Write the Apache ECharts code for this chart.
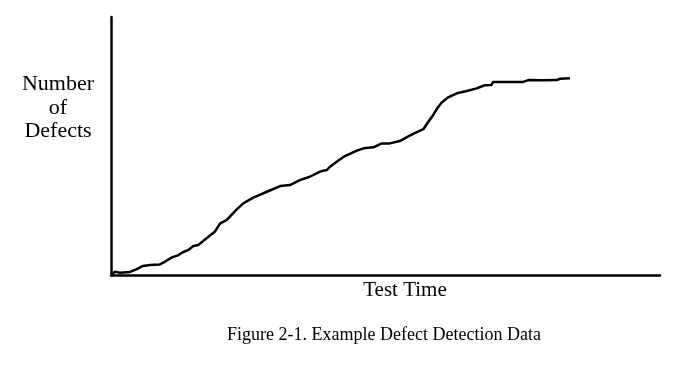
<!DOCTYPE html>
<html>
<head>
<meta charset="utf-8">
<script src="https://cdn.jsdelivr.net/npm/echarts@6/dist/echarts.min.js"></script>
<style>html,body{margin:0;padding:0;background:#fff}#c{width:698px;height:368px}</style>
</head>
<body>
<div id="c"></div>
<script>
// Test time (relative units, 0..100 along the axis)
const testTime = [0.2,0.7,1.6,3.5,4.7,5.8,7.1,8.9,9.8,11.1,12.3,12.9,14.1,15.0,15.9,17.4,18.9,19.9,21.1,22.9,24.1,25.9,28.4,30.8,32.6,34.4,36.2,38.1,39.3,39.9,41.1,42.6,44.8,46.0,47.8,49.3,50.8,52.6,53.9,55.4,56.9,57.8,58.7,59.3,60.2,61.4,63.0,64.8,66.6,68.1,69.3,69.6,72.1,75.1,76.0,78.7,81.2,81.8,83.6];
// Cumulative number of defects (relative units, 0..100)
const defects = [0.2,1.5,1.1,1.4,2.5,3.7,4.1,4.3,5.3,7.0,7.9,8.8,9.9,11.4,11.8,14.4,16.9,20.2,21.5,25.6,27.9,30.1,32.4,34.6,35.0,36.9,38.2,40.2,40.8,42.1,44.0,46.2,48.3,49.2,49.6,51.1,51.1,52.0,53.5,55.2,56.6,59.5,62.1,64.3,66.8,68.9,70.5,71.4,72.4,73.6,73.7,74.9,74.9,74.9,75.6,75.5,75.6,76.1,76.3];
const yTitle = ['Number', 'of', 'Defects'];
const xTitle = 'Test Time';
const caption = 'Figure 2-1. Example Defect Detection Data';

const chart = echarts.init(document.getElementById('c'), null, {renderer: 'canvas'});
const font = '"Liberation Serif", "Times New Roman", serif';
chart.setOption({
  animation: false,
  backgroundColor: '#fff',
  grid: {left: 111, right: 38, top: 17, bottom: 92.5},
  xAxis: {
    type: 'value', min: 0, max: 100,
    axisLine: {show: true, onZero: false, lineStyle: {color: '#000', width: 2.5}},
    axisTick: {show: false}, axisLabel: {show: false}, splitLine: {show: false}
  },
  yAxis: {
    type: 'value', min: 0, max: 100,
    axisLine: {show: true, onZero: false, lineStyle: {color: '#000', width: 2.5}},
    axisTick: {show: false}, axisLabel: {show: false}, splitLine: {show: false}
  },
  series: [{
    type: 'line',
    data: testTime.map((t, i) => [t, defects[i]]),
    showSymbol: false,
    lineStyle: {color: '#000', width: 2.5},
    z: 3
  }],
  graphic: [
    {type: 'text', x: 58, y: 108, silent: true,
     style: {text: yTitle.join('\n'), font: '22px ' + font, fill: '#000',
             align: 'center', verticalAlign: 'middle', lineHeight: 23.5}},
    {type: 'text', x: 405, y: 290, silent: true,
     style: {text: xTitle, font: '21px ' + font, fill: '#000',
             align: 'center', verticalAlign: 'middle'}},
    {type: 'text', x: 384, y: 335, silent: true,
     style: {text: caption, font: '18px ' + font, fill: '#000',
             align: 'center', verticalAlign: 'middle'}}
  ]
});
</script>
</body>
</html>
